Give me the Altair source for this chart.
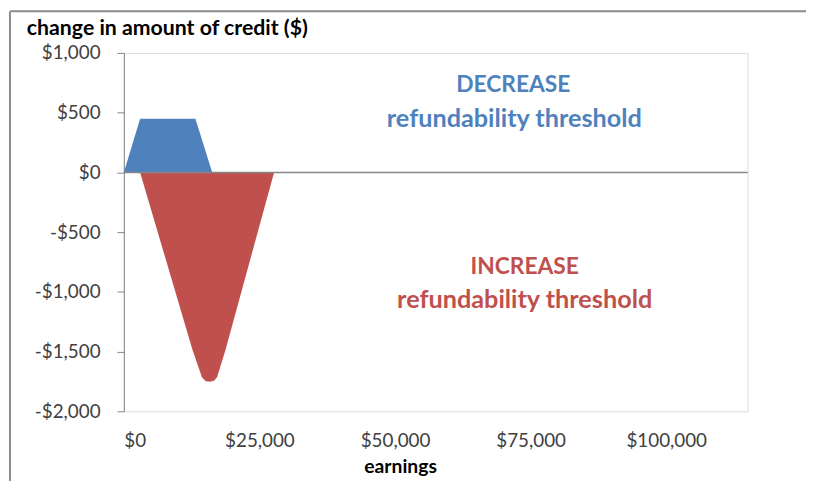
import altair as alt
import pandas as pd

# Blue series: DECREASE refundability threshold
dec_earnings = [0, 3000, 13200, 16300]
dec_change = [0, 450, 450, 0]

# Red series: INCREASE refundability threshold
inc_earnings = [3000, 12650, 14400, 15100, 15900, 16700, 17200, 18750, 27700]
inc_change = [0, -1485, -1715, -1748, -1752, -1742, -1712, -1485, 0]

series_names = ["DECREASE", "INCREASE"]
series_colors = ["#4F81BD", "#C0504D"]

x_ticks = [0, 25000, 50000, 75000, 100000]
y_ticks = [-2000, -1500, -1000, -500, 0, 500, 1000]
x_max = 115000

# Annotation text (positioned in data units)
head_x = [71800, 73900]
head_y = [734, -790]
head_text = ["DECREASE", "INCREASE"]
sub_x = [72000, 73900]
sub_y = [450, -1070]
sub_text = ["refundability threshold", "refundability threshold"]

FONT = "Lato"

rows = []
for e, c in zip(dec_earnings, dec_change):
    rows.append({"earnings": e, "change": c, "series": "DECREASE"})
for e, c in zip(inc_earnings, inc_change):
    rows.append({"earnings": e, "change": c, "series": "INCREASE"})
df = pd.DataFrame(rows)

head_df = pd.DataFrame({"x": head_x, "y": head_y, "text": head_text, "series": series_names})
sub_df = pd.DataFrame({"x": sub_x, "y": sub_y, "text": sub_text, "series": series_names})

color_scale = alt.Scale(domain=series_names, range=series_colors)

x_enc = alt.X(
    "earnings:Q",
    scale=alt.Scale(domain=[0, x_max], nice=False),
    axis=alt.Axis(
        values=x_ticks,
        labelExpr="'$' + format(datum.value, ',')",
        domain=False,
        ticks=False,
        tickSize=0,
        grid=False,
        labelPadding=30,
        labelBaseline="middle",
        labelFont=FONT,
        labelFontSize=19,
        labelColor="#404040",
        title="earnings",
        titleFont=FONT,
        titleFontSize=19.5,
        titleFontWeight="bold",
        titleColor="#000000",
        titleX=279,
        titleY=56,
        titleBaseline="middle",
        titleAnchor="start",
        titleAlign="center",
    ),
)

y_enc = alt.Y(
    "change:Q",
    stack=None,
    scale=alt.Scale(domain=[-2000, 1000], nice=False),
    axis=alt.Axis(
        values=y_ticks,
        labelExpr="datum.value < 0 ? '-$' + format(-datum.value, ',') : '$' + format(datum.value, ',')",
        domain=True,
        domainColor="#868686",
        domainWidth=1,
        ticks=True,
        tickSize=7,
        tickColor="#868686",
        grid=False,
        labelPadding=17,
        labelFont=FONT,
        labelFontSize=19,
        labelColor="#404040",
        title=None,
    ),
)

areas = alt.Chart(df).mark_area(opacity=1).encode(
    x=x_enc,
    y=y_enc,
    color=alt.Color("series:N", scale=color_scale, legend=None),
    detail="series:N",
)

zero_df = pd.DataFrame({"x0": [0], "x1": [x_max], "y": [0]})
zero_line = alt.Chart(zero_df).mark_rule(color="#868686", strokeWidth=1.5).encode(
    x="x0:Q", x2="x1:Q", y="y:Q"
)

heads = alt.Chart(head_df).mark_text(
    font=FONT, fontSize=23, fontWeight="bold", align="center", baseline="middle"
).encode(
    x="x:Q",
    y="y:Q",
    text="text:N",
    color=alt.Color("series:N", scale=color_scale, legend=None),
)

subs = alt.Chart(sub_df).mark_text(
    font=FONT, fontSize=25.5, fontWeight="bold", align="center", baseline="middle"
).encode(
    x="x:Q",
    y="y:Q",
    text="text:N",
    color=alt.Color("series:N", scale=color_scale, legend=None),
)

# chart heading, drawn as text in the top-left corner
title_df = pd.DataFrame({"t": ["change in amount of credit ($)"]})
title_txt = alt.Chart(title_df).mark_text(
    font=FONT, fontSize=21.5, fontWeight="bold", align="left", baseline="middle",
    color="#000000",
).encode(x=alt.value(-98), y=alt.value(-24), text="t:N")

# outer frame (top and left border of the original figure)
frame_top = alt.Chart(zero_df).mark_rule(color="#8c8c8c", strokeWidth=2).encode(
    x=alt.value(-115), x2=alt.value(700), y=alt.value(-42)
)
frame_left = alt.Chart(zero_df).mark_rule(color="#8c8c8c", strokeWidth=2).encode(
    x=alt.value(-115), y=alt.value(-42), y2=alt.value(440)
)

chart = alt.layer(frame_top, frame_left, areas, zero_line, heads, subs, title_txt).properties(
    width=630,
    height=362,
    autosize=alt.AutoSizeParams(type="none"),
    padding={"left": 117, "top": 43, "right": 59, "bottom": 68},
).configure_view(stroke=None).configure(background="white")

chart.save("out.html", embed_options={"renderer": "svg", "actions": False})
